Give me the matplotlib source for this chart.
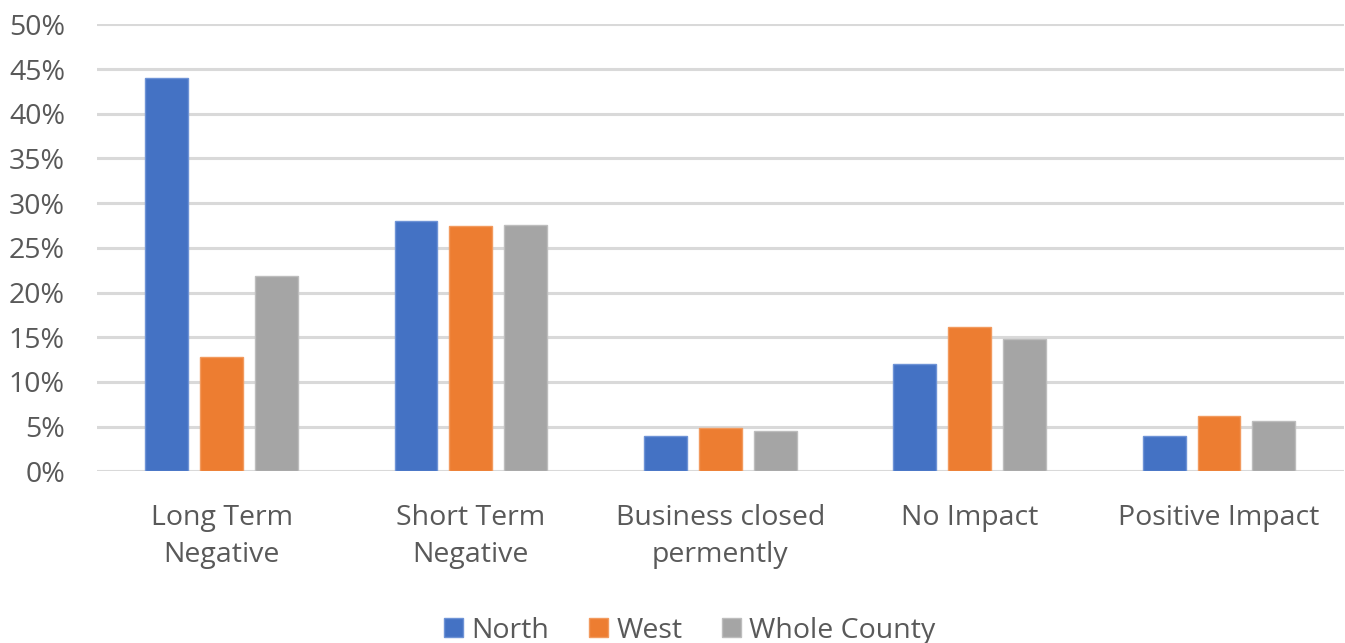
import matplotlib
matplotlib.use("Agg")
import matplotlib.pyplot as plt
import numpy as np
from matplotlib.ticker import PercentFormatter

categories = ["Long Term\nNegative", "Short Term\nNegative", "Business closed\npermently", "No Impact", "Positive Impact"]
series_names = ["North", "West", "Whole County"]
north = [44.0, 28.0, 3.9, 12.0, 3.9]
west = [12.8, 27.4, 4.8, 16.1, 6.2]
whole = [21.9, 27.6, 4.5, 14.8, 5.6]
colors = ["#4472C4", "#ED7D31", "#A5A5A5"]
edge_colors = ["#6E93D6", "#F29A5E", "#BDBDBD"]

plt.rcParams['font.family'] = ['Open Sans', 'DejaVu Sans']
fig = plt.figure(figsize=(13.45, 6.43), dpi=100)
ax = fig.add_axes([0.072, 0.267, 0.927, 0.695])

x = np.arange(len(categories))
w = 0.172
step = 0.22
for i, (vals, name) in enumerate(zip([north, west, whole], series_names)):
    ax.bar(x + (i - 1) * step, vals, width=w, color=colors[i], edgecolor=edge_colors[i],
           linewidth=1.0, label=name, zorder=3)

ax.set_ylim(0, 50)
ax.set_xlim(-0.5, len(categories) - 0.5)
ax.set_yticks(np.arange(0, 51, 5))
ax.yaxis.set_major_formatter(PercentFormatter(decimals=0))
ax.grid(axis='y', color='#D9D9D9', linewidth=2.2, zorder=0)
ax.set_xticks(x)
ax.set_xticklabels(categories, linespacing=1.42)
for s in ax.spines.values():
    s.set_visible(False)
ax.tick_params(axis='both', length=0, labelsize=20.5, colors='#595959')
ax.tick_params(axis='y', pad=23)
ax.tick_params(axis='x', pad=23.5)

leg = fig.legend(loc='center', bbox_to_anchor=(0.513, 0.019), ncol=3, frameon=False,
                 fontsize=20.5, handlelength=0.65, handleheight=0.65, handletextpad=0.3,
                 columnspacing=1.4, labelcolor='#595959')

fig.savefig("out.png", dpi=100, facecolor='white')
